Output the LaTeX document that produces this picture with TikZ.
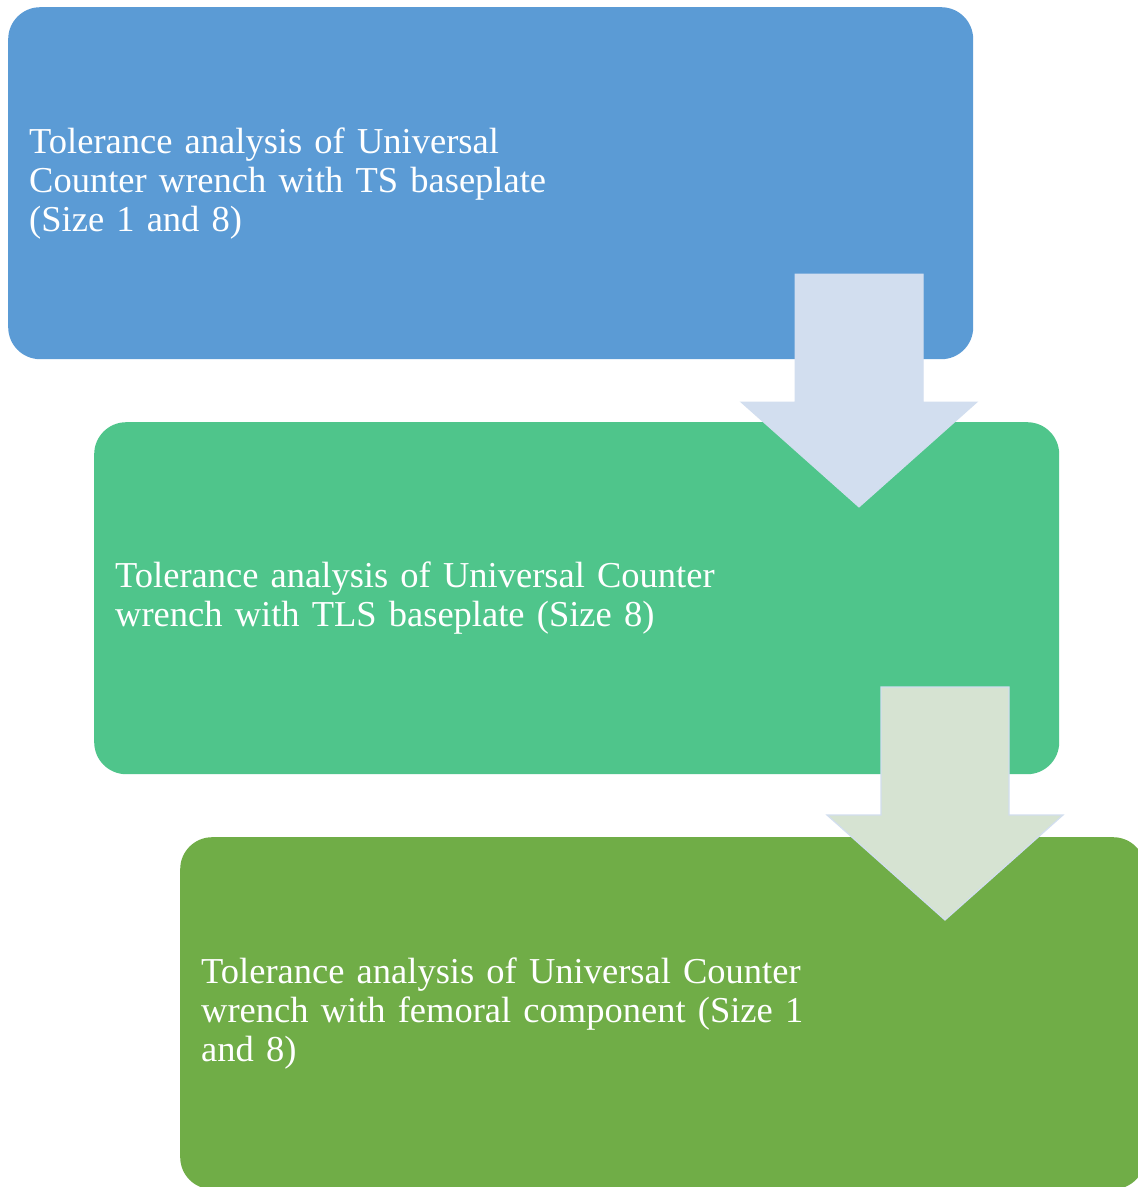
\documentclass[tikz,border=0pt]{standalone}
\usepackage{fontspec}
\setmainfont{Liberation Serif}
\definecolor{stageblue}{HTML}{5B9BD5}
\definecolor{stageteal}{HTML}{4FC58B}
\definecolor{stagegreen}{HTML}{70AD47}
\definecolor{arrowblue}{HTML}{D2DEEF}
\definecolor{arrowgreen}{HTML}{D6E3D2}
\begin{document}
\begin{tikzpicture}[x=1pt,y=-1pt,
  stage/.style={rounded corners=32pt, anchor=north west,
    minimum width=965pt, minimum height=352pt,
    inner xsep=21pt, text width=923pt, align=left,
    text=white, font=\fontsize{36.5}{39}\selectfont},
  downarrow/.pic={
    \path[pic actions] (-64,-233) -- (64,-233) -- (64,-105) -- (118,-105)
      -- (0,0) -- (-118,-105) -- (-64,-105) -- cycle;
  }]
\useasboundingbox (0,0) rectangle (1138,1187);
\fill[white] (0,0) rectangle (1138,1187);

\node[stage, fill=stageblue] (s1) at (8,7)
  {Tolerance analysis of Universal\\Counter wrench with TS baseplate\\(Size 1 and 8)};
\node[stage, fill=stageteal] (s2) at (94,422)
  {Tolerance analysis of Universal Counter\\wrench with TLS baseplate (Size 8)};
\node[stage, fill=stagegreen] (s3) at (180,837)
  {Tolerance analysis of Universal Counter\\wrench with femoral component (Size 1\\and 8)};

% block arrows between consecutive stages
\coordinate (tip1) at (859,507);
\coordinate (tip2) at (945,920);
\pic[fill=arrowblue, draw=arrowblue, line width=1pt] at (tip1) {downarrow};
\pic[fill=arrowgreen, draw=arrowblue, line width=1.2pt] at (tip2) {downarrow};
\end{tikzpicture}
\end{document}
